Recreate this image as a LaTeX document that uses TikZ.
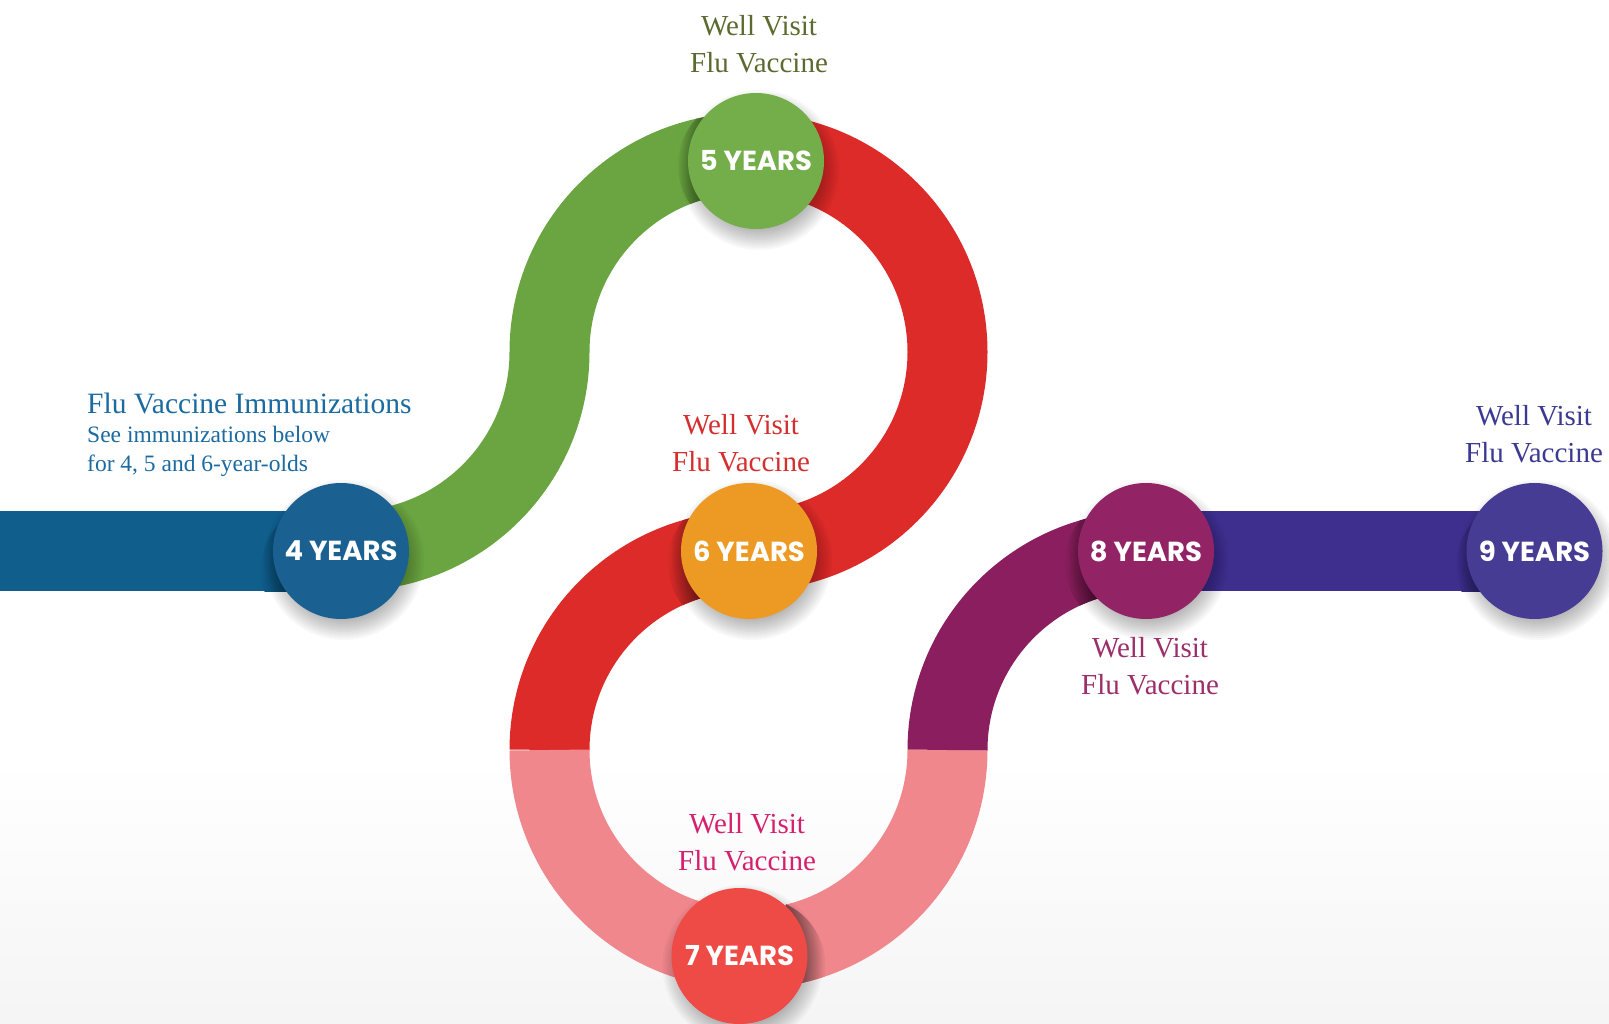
\documentclass[tikz,border=0pt]{standalone}
\usepackage{fontspec}
\setmainfont{Liberation Serif}
\newfontfamily\yrfont{Poppins}
\usetikzlibrary{calc}
\definecolor{cBlueBand}{HTML}{0F5E8C}
\definecolor{cBlueCirc}{HTML}{1A6192}
\definecolor{cGreenBand}{HTML}{6AA541}
\definecolor{cGreenCirc}{HTML}{74AE4A}
\definecolor{cRedBand}{HTML}{DC2B29}
\definecolor{cOrangeCirc}{HTML}{ED9A24}
\definecolor{cPinkBand}{HTML}{F0878D}
\definecolor{cRedCirc}{HTML}{EE4A46}
\definecolor{cPurpleBand}{HTML}{8B1E5E}
\definecolor{cPurpleCirc}{HTML}{922465}
\definecolor{cIndigoBand}{HTML}{3E2F8F}
\definecolor{cIndigoCirc}{HTML}{473C94}
\definecolor{tOlive}{HTML}{5B6A2F}
\definecolor{tRed}{HTML}{D42F2F}
\definecolor{tMagenta}{HTML}{D4206E}
\definecolor{tPlum}{HTML}{9C2E6A}
\definecolor{tIndigo}{HTML}{3B3A92}
\definecolor{tBlue}{HTML}{1B6AA0}
\pgfdeclarelayer{back}
\pgfdeclarelayer{bands}
\pgfsetlayers{back,bands,main}
\tikzset{
  yearnode/.style={circle, minimum size=136pt, inner sep=0pt, text=white,
     font=\yrfont\bfseries\fontsize{27.5}{30}\selectfont},
  bandline/.style={line width=80pt, line cap=butt},
  softshadow/.style={black, opacity=0.028},
  visitlabel/.style={align=center, anchor=base, inner sep=0pt, font=\fontsize{29}{37}\selectfont},
}
\newcommand\yrshadow[1]{%
  \foreach \rr in {58,60,...,80}
    \fill[softshadow] ($(#1.center)+(3,-9)$) circle[radius=\rr];}
\begin{document}
\begin{tikzpicture}[x=1pt,y=1pt]
\useasboundingbox (0,0) rectangle (1609,-1024);
\begin{pgfonlayer}{back}
  \fill[white] (0,0) rectangle (1609,-1024);
  \shade[top color=white, bottom color=black!4] (0,-760) rectangle (1609,-1024);
\end{pgfonlayer}

% year circles
\node[yearnode, fill=cBlueCirc]   (y4) at (341,-551)   {4 YEARS};
\node[yearnode, fill=cGreenCirc]  (y5) at (756,-161)   {5 YEARS};
\node[yearnode, fill=cOrangeCirc] (y6) at (749,-551)   {6 YEARS};
\node[yearnode, fill=cRedCirc]    (y7) at (739.5,-956) {7 YEARS};
\node[yearnode, fill=cPurpleCirc] (y8) at (1146,-551)  {8 YEARS};
\node[yearnode, fill=cIndigoCirc] (y9) at (1534.5,-551) {9 YEARS};

% path points
\coordinate (b0) at (0,-551);
\coordinate (g0) at (350.5,-551);
\coordinate (r0) at (748.5,-153);
\coordinate (p0) at (549.5,-750);
\coordinate (m0) at (947.5,-750);
\coordinate (i0) at (1146.5,-551);

\begin{pgfonlayer}{bands}
  \draw[bandline, cBlueBand] (b0) -- (g0);
  \draw[bandline, cGreenBand] (g0) arc[start angle=-90,end angle=0,radius=199]
        arc[start angle=180,end angle=90,radius=199];
  \draw[bandline, cRedBand] (r0) arc[start angle=90,end angle=-90,radius=199]
        arc[start angle=90,end angle=180,radius=199];
  \draw[bandline, cPinkBand] (p0) arc[start angle=180,end angle=360,radius=199];
  \draw[bandline, cPurpleBand] (m0) arc[start angle=180,end angle=90,radius=199];
  \draw[bandline, cIndigoBand] (i0) -- (y9.center);

  % crescent shadows on the bands
  \begin{scope}
    \clip (0,-511) rectangle (350,-591);
    \clip ($(y4.center)+(-12,-19)$) circle[radius=68];
    \shade[left color=cBlueBand, right color=cBlueBand!40!black] (258,-480) rectangle (318,-600);
  \end{scope}
  \begin{scope}
    \clip (748.5,-113) arc[start angle=90,end angle=180,radius=239] -- (589.5,-352)
          arc[start angle=180,end angle=90,radius=159] -- cycle;
    \clip ($(y5.center)+(-10,-4)$) circle[radius=68];
    \shade[left color=cGreenBand, right color=cGreenBand!55!black] (676,-90) rectangle (712,-240);
  \end{scope}
  \begin{scope}
    \clip (748.5,-511) arc[start angle=90,end angle=180,radius=239] -- (589.5,-750)
          arc[start angle=180,end angle=90,radius=159] -- cycle;
    \clip ($(y6.center)+(-13,-12)$) circle[radius=68];
    \shade[left color=cRedBand, right color=cRedBand!45!black] (666,-480) rectangle (718,-640);
  \end{scope}
  \begin{scope}
    \clip (748.5,-989) arc[start angle=270,end angle=360,radius=239] -- (907.5,-750)
          arc[start angle=360,end angle=270,radius=159] -- cycle;
    \clip ($(y7.center)+(18,-10)$) circle[radius=68];
    \shade[left color=cPinkBand!55!black, right color=cPinkBand] (786,-880) rectangle (828,-1030);
  \end{scope}
  \begin{scope}
    \clip (1146.5,-511) arc[start angle=90,end angle=180,radius=239] -- (987.5,-750)
          arc[start angle=180,end angle=90,radius=159] -- cycle;
    \clip ($(y8.center)+(-13,-12)$) circle[radius=68];
    \shade[left color=cPurpleBand, right color=cPurpleBand!40!black] (1063,-480) rectangle (1115,-640);
  \end{scope}
  \begin{scope}
    \clip (1146.5,-511) rectangle (1534.5,-591);
    \clip ($(y9.center)+(-10,-15)$) circle[radius=68];
    \shade[left color=cIndigoBand, right color=cIndigoBand!40!black] (1454,-480) rectangle (1510,-640);
  \end{scope}

  % soft drop shadows of the circles
  \yrshadow{y4}\yrshadow{y5}\yrshadow{y6}\yrshadow{y7}\yrshadow{y8}\yrshadow{y9}
\end{pgfonlayer}

% labels (base anchor = baseline of the last line)
\node[visitlabel, text=tOlive]   (l5) at (759,-73)    {Well Visit\\Flu Vaccine};
\node[visitlabel, text=tRed]     (l6) at (741,-471)   {Well Visit\\Flu Vaccine};
\node[visitlabel, text=tMagenta] (l7) at (747,-870)   {Well Visit\\Flu Vaccine};
\node[visitlabel, text=tPlum]    (l8) at (1150,-694.5) {Well Visit\\Flu Vaccine};
\node[visitlabel, text=tIndigo]  (l9) at (1534,-462)  {Well Visit\\Flu Vaccine};

\node[anchor=base west, inner sep=0pt, text=tBlue, font=\fontsize{29.5}{30}\selectfont]
   (fluhead) at (87,-413) {Flu Vaccine Immunizations};
\node[anchor=base west, inner sep=0pt, align=left, text=tBlue, font=\fontsize{23.5}{29}\selectfont]
   (flusub) at (87,-471) {See immunizations below\\for 4, 5 and 6-year-olds};
\end{tikzpicture}
\end{document}
